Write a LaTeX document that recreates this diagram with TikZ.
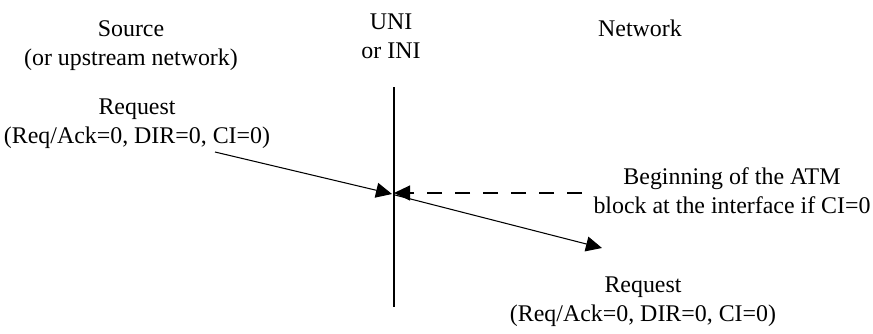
\documentclass[tikz,border=0pt]{standalone}
\usepackage{fontspec}
\setmainfont{Liberation Serif}
\usetikzlibrary{arrows.meta,positioning}

\begin{document}
\begin{tikzpicture}[>={Triangle[length=0.32cm,width=0.3cm]}, line width=0.6pt,
		lbl/.style={align=center, inner sep=0pt, font=\fontsize{13.6pt}{16.5pt}\selectfont}]
		\useasboundingbox (0,0) rectangle (17.46,6.66);
		
		% headings
		\node[lbl]  (src)     at (2.62,5.74)  {Source\\(or upstream network)};
		\node[lbl]  (uni)     at (7.82,5.94)  {UNI\\or INI};
		\node[lbl]  (net)     at (12.80,6.10) {Network};
		
		% messages
		\node[lbl]  (req_in)  at (2.74,4.18)  {Request\\(Req/Ack=0, DIR=0, CI=0)};
		\node[lbl]  (note)    at (14.64,2.84) {Beginning of the ATM\\block at the interface if CI=0};
		\node[lbl]  (req_out) at (12.86,0.62) {Request\\(Req/Ack=0, DIR=0, CI=0)};
		
		\coordinate (if_top)  at (7.88,4.92);
		\coordinate (if_bot)  at (7.88,0.52);
		\coordinate (in_s)    at (4.30,3.62);
		\coordinate (in_e)    at (7.84,2.78);
		\coordinate (out_s)   at (7.90,2.76);
		\coordinate (out_e)   at (12.04,1.70);
		\coordinate (note_s)  at (11.64,2.80);
		\coordinate (note_e)  at (7.88,2.80);
		
		\draw (if_top) -- (if_bot);
		\draw[->] (in_s) -- (in_e);
		\draw[->] (out_s) -- (out_e);
		\draw[->, dash pattern=on 0.3cm off 0.26cm] (note_s) -- (note_e);
	\end{tikzpicture}
\end{document}
